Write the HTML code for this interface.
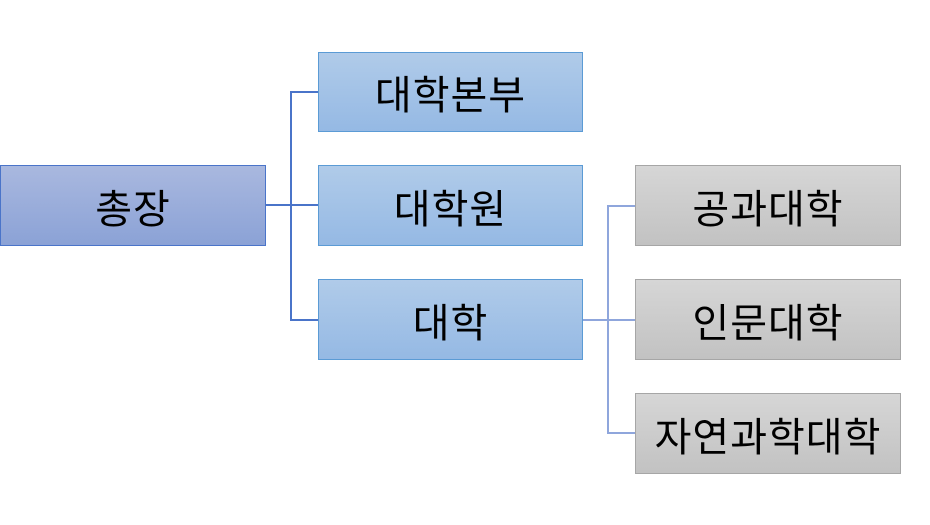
<!DOCTYPE html>
<html><head><meta charset="utf-8"><style>
body{margin:0;width:930px;height:525px;background:#fff;position:relative;overflow:hidden;font-family:"Liberation Sans","Noto Sans CJK KR",sans-serif}
.b{position:absolute;box-sizing:border-box;display:flex;align-items:center;justify-content:center;font-size:40px;color:#000;letter-spacing:1px}
.r{background:linear-gradient(#a9b8df,#8ba2d6);border:1px solid #4a74c9}
.m{background:linear-gradient(#b0cbe9,#95b9e4);border:1px solid #5b9bd5}
.g{background:linear-gradient(#d6d6d6,#c2c2c2);border:1px solid #a6a6a6}
.l{position:absolute;background:#4a74c9}
.l2{position:absolute;background:#8fa6dc}
</style></head><body>
<div class="l" style="left:290px;top:91px;width:2px;height:230px"></div>
<div class="l" style="left:265px;top:204px;width:53px;height:2px"></div>
<div class="l" style="left:291px;top:91px;width:27px;height:2px"></div>
<div class="l" style="left:291px;top:319px;width:27px;height:2px"></div>
<div class="l2" style="left:607px;top:205px;width:2px;height:229px"></div>
<div class="l2" style="left:582px;top:319px;width:53px;height:2px"></div>
<div class="l2" style="left:608px;top:205px;width:27px;height:2px"></div>
<div class="l2" style="left:608px;top:432px;width:27px;height:2px"></div>
<div class="b r" style="left:0;top:165px;width:266px;height:81px">총장</div>
<div class="b m" style="left:318px;top:52px;width:265px;height:80px">대학본부</div>
<div class="b m" style="left:318px;top:165px;width:265px;height:81px">대학원</div>
<div class="b m" style="left:318px;top:279px;width:265px;height:81px">대학</div>
<div class="b g" style="left:635px;top:165px;width:266px;height:81px">공과대학</div>
<div class="b g" style="left:635px;top:279px;width:266px;height:81px">인문대학</div>
<div class="b g" style="left:635px;top:393px;width:266px;height:81px">자연과학대학</div>
</body></html>
